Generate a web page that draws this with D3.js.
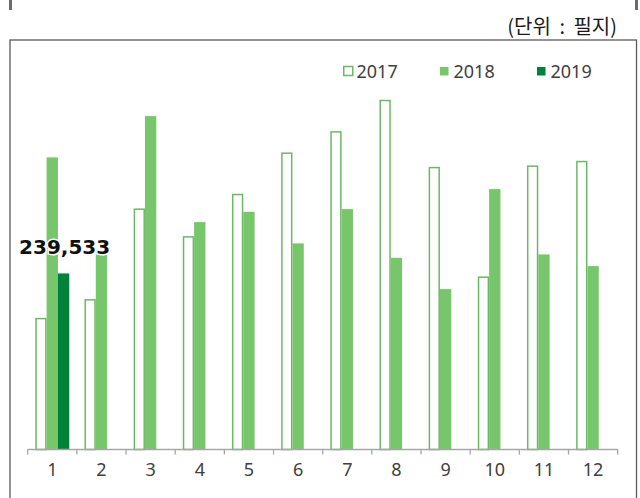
<!DOCTYPE html>
<html>
<head>
<meta charset="utf-8">
<script src="https://cdn.jsdelivr.net/npm/d3@7"></script>
<style>
  html, body { margin: 0; padding: 0; background: #fff; }
  svg { display: block; }
</style>
</head>
<body>
<div id="chart"></div>
<script>
// data
var months = ['1', '2', '3', '4', '5', '6', '7', '8', '9', '10', '11', '12'];
var years = ['2017', '2018', '2019'];
var values2017 = [179100, 204600, 328000, 290300, 347900, 404200, 433200, 475800, 384600, 235500, 386500, 392800];
var values2018 = [397400, 271300, 453600, 309400, 323400, 280400, 327100, 260800, 218200, 354300, 265400, 249500];
var values2019 = [239533];
var unitLabel = '(단위 : 필지)';

// size setup
var width = 640, height = 498;
var plot = {left: 27.7, right: 617.7, top: 82, bottom: 449.5};

var colors = {'2017': '#ffffff', '2018': '#78c66c', '2019': '#00813a'};
var outline = '#6db866';

var svg = d3.select('#chart').append('svg')
    .attr('width', width)
    .attr('height', height);

// outer frame and the two marks above it
svg.append('rect')
    .attr('x', 10).attr('y', 40)
    .attr('width', 626.5).attr('height', 480)
    .attr('fill', 'none')
    .attr('stroke', '#5a5a5a')
    .attr('stroke-width', 1.3);
svg.append('rect').attr('x', 9).attr('y', 0).attr('width', 3).attr('height', 10).attr('fill', '#6b6b6b');
svg.append('rect').attr('x', 635).attr('y', 0).attr('width', 3).attr('height', 10).attr('fill', '#6b6b6b');

svg.append('text')
    .attr('x', 617).attr('y', 34)
    .attr('text-anchor', 'end')
    .style('font-family', '"Noto Sans CJK KR", "Noto Sans", sans-serif')
    .style('font-size', '20px')
    .style('word-spacing', '4px')
    .style('fill', '#1a1a1a')
    .text(unitLabel);

// scales
var xScale = d3.scaleBand().domain(months).range([plot.left, plot.right]).padding(0);
var xSub = d3.scaleBand().domain(years).range([0, xScale.bandwidth()]).paddingInner(0).paddingOuter(0.67);
var yScale = d3.scaleLinear().domain([0, 500000]).range([plot.bottom, plot.top]);

var series = {'2017': values2017, '2018': values2018, '2019': values2019};
var bars = [];
years.forEach(function(y){
    series[y].forEach(function(v, i){
        bars.push({year: y, month: months[i], value: v});
    });
});

var cht = svg.append('g');

cht.selectAll('rect.bar')
    .data(bars)
    .enter()
    .append('rect')
    .attr('class', 'bar')
    .attr('x', function(d){
        var x = xScale(d.month) + xSub(d.year);
        return d.year === '2017' ? x + 0.75 : x;
    })
    .attr('y', function(d){
        return d.year === '2017' ? yScale(d.value) + 0.75 : yScale(d.value);
    })
    .attr('width', function(d){
        return d.year === '2017' ? xSub.bandwidth() - 1.5 : xSub.bandwidth();
    })
    .attr('height', function(d){
        var h = yScale(0) - yScale(d.value);
        return d.year === '2017' ? h - 0.75 : h;
    })
    .attr('fill', function(d){ return colors[d.year]; })
    .attr('stroke', function(d){ return d.year === '2017' ? outline : 'none'; })
    .attr('stroke-width', 1.5);

// data label for 2019
svg.append('text')
    .attr('x', xScale('1') + xSub('2019') + xSub.bandwidth() / 2 + 1)
    .attr('y', yScale(values2019[0]) - 19)
    .attr('text-anchor', 'middle')
    .style('font-family', '"DejaVu Sans", sans-serif')
    .style('font-weight', 'bold')
    .style('font-size', '20px')
    .style('fill', '#111')
    .style('stroke', '#fff')
    .style('stroke-width', 3)
    .style('paint-order', 'stroke')
    .text(d3.format(',')(values2019[0]));

// x axis: baseline and boundary ticks
var axis = svg.append('g');
axis.append('line')
    .attr('x1', plot.left).attr('x2', plot.right)
    .attr('y1', plot.bottom).attr('y2', plot.bottom)
    .attr('stroke', '#a6a6a6').attr('stroke-width', 1.3);
var bounds = months.map(function(m){ return xScale(m); }).concat([plot.right]);
axis.selectAll('line.tick')
    .data(bounds)
    .enter()
    .append('line')
    .attr('class', 'tick')
    .attr('x1', function(d){ return d; }).attr('x2', function(d){ return d; })
    .attr('y1', plot.bottom).attr('y2', plot.bottom + 5)
    .attr('stroke', '#a6a6a6').attr('stroke-width', 1.3);

var labels = svg.append('g')
    .attr('transform', 'translate(0,' + plot.bottom + ')')
    .call(d3.axisBottom(xScale).tickSize(0).tickPadding(14));
labels.select('.domain').remove();
labels.selectAll('text')
    .style('font-family', '"Noto Sans", sans-serif')
    .style('font-size', '18px')
    .style('fill', '#404040');

// legend
var legend = svg.append('g');
var legendX = {'2017': 343, '2018': 440, '2019': 537};
years.forEach(function(y){
    var g = legend.append('g').attr('transform', 'translate(' + legendX[y] + ',0)');
    if(y === '2017'){
        g.append('rect').attr('x', 0.75).attr('y', 66.5).attr('width', 9).attr('height', 9)
            .attr('fill', '#fff').attr('stroke', outline).attr('stroke-width', 1.5);
    } else {
        g.append('rect').attr('x', 0).attr('y', 67).attr('width', 8.5).attr('height', 8.5)
            .attr('fill', colors[y]);
    }
    g.append('text')
        .attr('x', 13.5).attr('y', 77.5)
        .style('font-family', '"Noto Sans", sans-serif')
        .style('font-size', '18px')
        .style('fill', '#404040')
        .text(y);
});
</script>
</body>
</html>
